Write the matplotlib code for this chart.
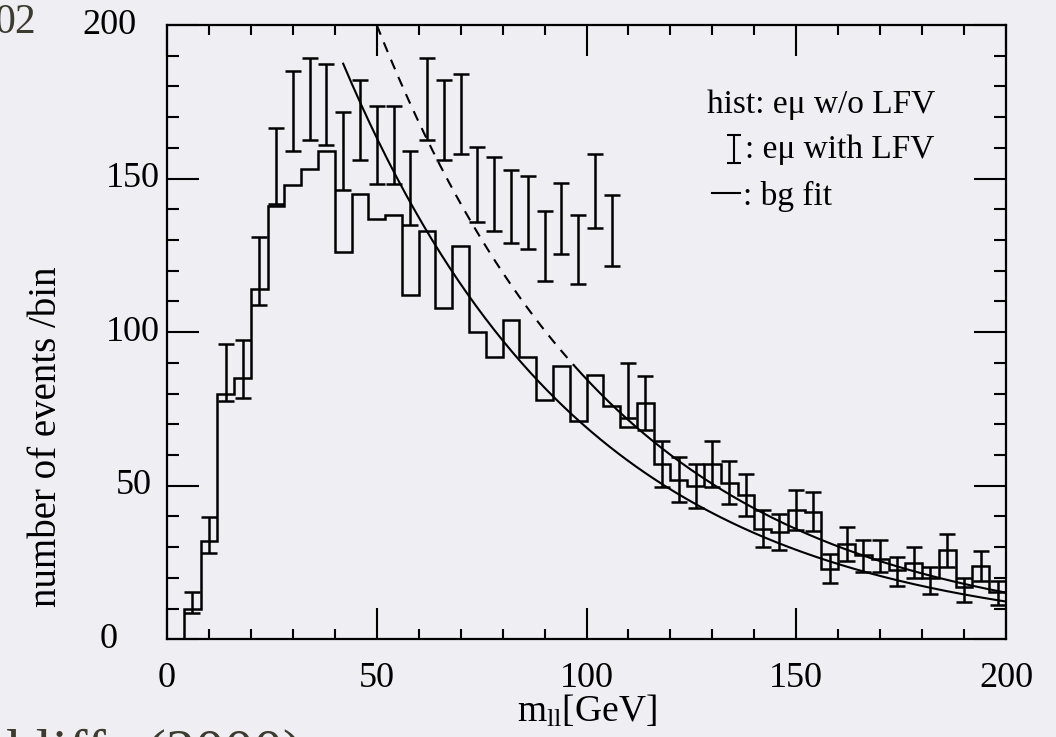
import numpy as np
import matplotlib.pyplot as plt

plt.rcParams['font.family'] = ['Liberation Serif', 'DejaVu Serif']
plt.rcParams['mathtext.fontset'] = 'custom'
plt.rcParams['mathtext.rm'] = 'Liberation Serif'
plt.rcParams['mathtext.it'] = 'Liberation Serif:italic'

# e-mu invariant mass histogram without LFV, 4 GeV bins from 0 to 200
bin_edges = np.arange(0, 204, 4)
hist_counts = [0, 10, 32, 80, 85, 114, 141, 148, 153, 159,
               126, 145, 137, 138, 112, 133, 108, 128, 100, 92,
               104, 92, 78, 89, 71, 86, 76, 69, 77, 57,
               52, 50, 57, 51, 47, 36, 35, 42, 41.5, 23,
               31, 27.5, 26, 22.6, 25, 20, 29, 17, 24, 15.5]

# e-mu with LFV (points with error bars), at bin centres 6 ... 198
lfv_x = np.arange(6, 200, 4)
lfv_counts = [12, 34, 87, 88, 120, 154, 172, 176, 174, 159,
              169, 161, 161, 147, 176, 169, 171, 148, 145, 141,
              139, 128, 137, 127, 146, 133, 81, 77, 57, 52,
              50, 57, 51, 47, 36, 35, 42, 41.5, 23, 31,
              27, 27, 22, 25, 19, 29, 16, 24, 15]
lfv_err = [3.5, 5.8, 9.3, 9.4, 11.0, 12.4, 13.1, 13.3, 13.2, 12.6,
           13.0, 12.7, 12.7, 12.1, 13.3, 13.0, 13.1, 12.2, 12.0, 11.9,
           11.8, 11.3, 11.7, 11.3, 12.1, 11.5, 9.0, 8.8, 7.5, 7.2,
           7.1, 7.5, 7.1, 6.9, 6.0, 5.9, 6.5, 6.4, 4.8, 5.6,
           5.2, 5.2, 4.7, 5.0, 4.4, 5.4, 4.0, 4.9, 3.9]

# exponential background fits (start, norm at start, slope in GeV)
bg_fit = (42, 187.4, 58.0)
lfv_fit = (50, 200.0, 58.2)
lfv_fit_dash_end = 97

bg = '#efeef3'
fig = plt.figure(figsize=(10.56, 7.37), dpi=100, facecolor=bg)
ax = fig.add_axes([167 / 1056, 1 - 639.3 / 737, 839 / 1056, 614.3 / 737])
ax.set_facecolor(bg)

ax.stairs(hist_counts, bin_edges, color='black', lw=1.8)
ax.errorbar(lfv_x, lfv_counts, yerr=lfv_err, fmt='none', ecolor='black',
            elinewidth=1.8, capsize=5.8, capthick=1.8)

x0, a, s = bg_fit
xs = np.linspace(x0, 200, 300)
ax.plot(xs, a * np.exp(-(xs - x0) / s), color='black', lw=1.5)

x0, a, s = lfv_fit
xd = np.linspace(x0, lfv_fit_dash_end, 150)
ax.plot(xd, a * np.exp(-(xd - x0) / s), color='black', lw=1.5, ls=(0, (5, 4)))
xs = np.linspace(lfv_fit_dash_end, 200, 300)
ax.plot(xs, a * np.exp(-(xs - x0) / s), color='black', lw=1.5)

ax.set_xlim(0, 200)
ax.set_ylim(0, 200)
ax.set_xticks([0, 50, 100, 150, 200])
ax.set_xticks(np.arange(0, 201, 10), minor=True)
ax.set_yticks([0, 50, 100, 150, 200])
ax.set_yticks(np.arange(0, 201, 10), minor=True)
ax.tick_params(which='both', direction='in', top=True, right=True, width=1.5,
               labelsize=26, colors='black')
ax.tick_params(axis='x', which='major', length=22, pad=16)
ax.tick_params(axis='x', which='minor', length=7.5)
ax.tick_params(axis='y', which='major', length=23)
ax.tick_params(axis='y', which='minor', length=8.5)
ax.set_yticklabels([])
for sp in ax.spines.values():
    sp.set_linewidth(1.6)

# y tick labels, placed as in the original slide
ylab_right_px = [118, 152, 160, 160, 137]
for v, px in zip([0, 50, 100, 150, 200], ylab_right_px):
    ax.text((px - 167) / 839, v, str(v), transform=ax.get_yaxis_transform(),
            ha='right', va='center', fontsize=26, clip_on=False)

# in-plot legend
ax.text(128.7, 171.4, 'hist: eμ w/o LFV', fontsize=24, va='baseline')
ax.errorbar([135.2], [159.7], yerr=[4.6], fmt='none', ecolor='black',
            elinewidth=1.5, capsize=5.2, capthick=1.5)
ax.text(137.8, 156.7, ': eμ with LFV', fontsize=24, va='baseline')
ax.plot([129.8, 136.6], [145.3, 145.3], color='black', lw=1.5)
ax.text(137.4, 141.4, ': bg fit', fontsize=24, va='baseline')

fig.text(47 / 1056, 1 - 437 / 737, 'number of events /bin', rotation=90,
         ha='center', va='center', fontsize=28)
fig.text(587 / 1056, 1 - 722 / 737, r'm$_{\mathrm{ll}}$[GeV]', ha='center',
         va='baseline', fontsize=27)

# slide text cut by the crop
fig.text(36 / 1056, 1 - 33 / 737, '02', ha='right', va='baseline',
         fontsize=30, color='#3b3b30')
fig.text(302 / 1056, 1 - 769 / 737, 'Hinchliffe (2000)', ha='right',
         va='baseline', fontsize=42, color='#3b3b30')

fig.savefig('out.png', dpi=100, facecolor=bg)
